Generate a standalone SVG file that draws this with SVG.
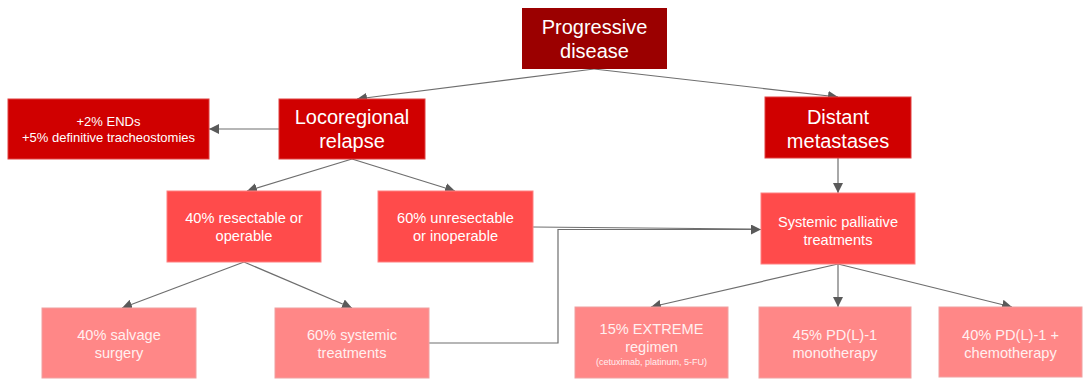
<svg xmlns="http://www.w3.org/2000/svg" width="1088" height="379" viewBox="0 0 1088 379">
<defs>
<marker id="ah" viewBox="0 0 10 10" refX="10" refY="5" markerWidth="10" markerHeight="10" markerUnits="userSpaceOnUse" orient="auto">
<path d="M0,0 L10,5 L0,10 z" fill="#5a5a5a"/>
</marker>
<style>
.dark{fill:#9b0000;}
.red{fill:#d00000;stroke:#e04040;stroke-width:1;}
.mid{fill:#ff4b4b;stroke:#ff8080;stroke-width:1;}
.lt{fill:#ff8787;stroke:#f0a0a0;stroke-width:1;}
text{font-family:"Liberation Sans",Arial,sans-serif;fill:#ffffff;text-anchor:middle;}
.big{font-size:20px;}
.sm{font-size:13px;}
.md{font-size:14.6px;}
.lttxt{fill:#fff0f0;}
.tiny{font-size:9px;}
.con{fill:none;stroke:#6e6e6e;stroke-width:1.2;}
</style>
</defs>
<g id="connectors">
<path class="con" d="M594,69 L357,99" marker-end="url(#ah)"/>
<path class="con" d="M594,69 L838,97" marker-end="url(#ah)"/>
<path class="con" d="M279,129 L209,129" marker-end="url(#ah)"/>
<path class="con" d="M838,158 L838,193" marker-end="url(#ah)"/>
<path class="con" d="M352,159 L247,191" marker-end="url(#ah)"/>
<path class="con" d="M352,159 L455,191" marker-end="url(#ah)"/>
<path class="con" d="M244,262 L122,308" marker-end="url(#ah)"/>
<path class="con" d="M244,262 L352,308" marker-end="url(#ah)"/>
<path class="con" d="M533,227 L752,229"/>
<path class="con" d="M429,343 L558,343 L558,229.5 L761,229.5" marker-end="url(#ah)"/>
<path class="con" d="M838,264 L651,307" marker-end="url(#ah)"/>
<path class="con" d="M838,264 L838,307" marker-end="url(#ah)"/>
<path class="con" d="M838,264 L1012,307" marker-end="url(#ah)"/>
</g>
<g id="progressive">
<rect class="dark" x="522" y="8" width="145" height="61"/>
<text class="big" x="594.5" y="34">Progressive</text>
<text class="big" x="594.5" y="58">disease</text>
</g>
<g id="locoregional">
<rect class="red" x="279" y="99" width="146" height="60"/>
<text class="big" x="352" y="124">Locoregional</text>
<text class="big" x="352" y="148">relapse</text>
</g>
<g id="ends">
<rect class="red" x="8" y="99" width="201" height="60"/>
<text class="sm" x="108.5" y="126">+2% ENDs</text>
<text class="sm" x="108.5" y="142">+5% definitive tracheostomies</text>
</g>
<g id="distant">
<rect class="red" x="765" y="97" width="146" height="61"/>
<text class="big" x="838" y="124">Distant</text>
<text class="big" x="838" y="148">metastases</text>
</g>
<g id="resectable">
<rect class="mid" x="167" y="191" width="154" height="71"/>
<text class="md" x="244" y="223">40% resectable or</text>
<text class="md" x="244" y="241">operable</text>
</g>
<g id="unresectable">
<rect class="mid" x="378" y="191" width="155" height="71"/>
<text class="md" x="455.5" y="223">60% unresectable</text>
<text class="md" x="455.5" y="241">or inoperable</text>
</g>
<g id="systemic-palliative">
<rect class="mid" x="761" y="193" width="154" height="71"/>
<text class="md" x="838" y="227">Systemic palliative</text>
<text class="md" x="838" y="245">treatments</text>
</g>
<g id="salvage">
<rect class="lt" x="42" y="308" width="154" height="70"/>
<text class="md lttxt" x="119" y="340">40% salvage</text>
<text class="md lttxt" x="119" y="358">surgery</text>
</g>
<g id="systemic">
<rect class="lt" x="275" y="308" width="154" height="70"/>
<text class="md lttxt" x="352" y="340">60% systemic</text>
<text class="md lttxt" x="352" y="358">treatments</text>
</g>
<g id="extreme">
<rect class="lt" x="575" y="307" width="153" height="71"/>
<text class="md lttxt" x="651.5" y="334">15% EXTREME</text>
<text class="md lttxt" x="651.5" y="352">regimen</text>
<text class="tiny lttxt" x="651.5" y="365">(cetuximab, platinum, 5-FU)</text>
</g>
<g id="pdl1-mono">
<rect class="lt" x="759" y="307" width="152" height="71"/>
<text class="md lttxt" x="835" y="340">45% PD(L)-1</text>
<text class="md lttxt" x="835" y="358">monotherapy</text>
</g>
<g id="pdl1-chemo">
<rect class="lt" x="939" y="307" width="143" height="70"/>
<text class="md lttxt" x="1010.5" y="340">40% PD(L)-1 +</text>
<text class="md lttxt" x="1010.5" y="358">chemotherapy</text>
</g>
</svg>
